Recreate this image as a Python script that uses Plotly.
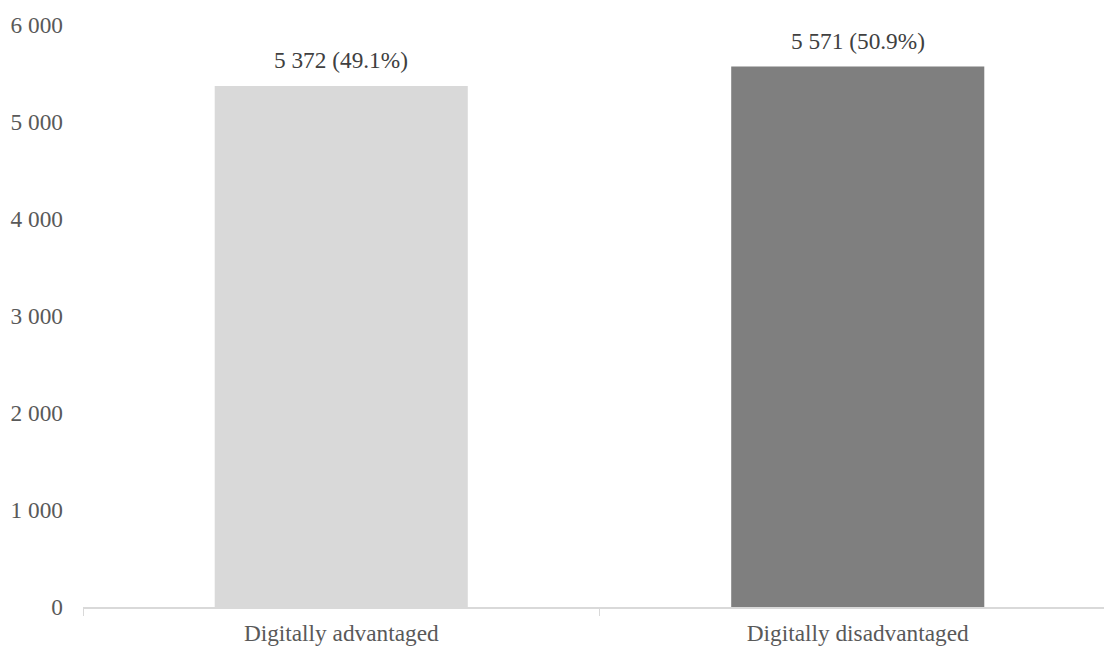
import plotly.graph_objects as go

# Respondent counts by digital status
categories = ["Digitally advantaged", "Digitally disadvantaged"]
counts = [5372, 5571]
shares = [49.1, 50.9]
bar_colors = ["#d9d9d9", "#7f7f7f"]

y_ticks = [0, 1000, 2000, 3000, 4000, 5000, 6000]
y_tick_text = ["0", "1 000", "2 000", "3 000", "4 000", "5 000", "6 000"]


def fmt_thousands(v):
    return f"{v:,}".replace(",", " ")


labels = [f"{fmt_thousands(c)} ({s:.1f}%)" for c, s in zip(counts, shares)]

font_family = "Liberation Serif, Times New Roman, serif"
text_color = "#595959"
font_size = 23.3

fig = go.Figure(
    go.Bar(
        x=categories,
        y=counts,
        marker=dict(color=bar_colors, line=dict(width=0)),
        hoverinfo="skip",
    )
)

for cat, c, lab in zip(categories, counts, labels):
    fig.add_annotation(
        x=cat, y=c, text=lab, showarrow=False,
        yanchor="bottom", yshift=11,
        font=dict(family=font_family, size=font_size, color="#404040"),
    )

# Plot area extends past the right page edge, so the x range is widened
plot_left, plot_right, cat_px = 83, 1104, 516.5
x_right = -0.5 + (plot_right - plot_left) / cat_px

fig.update_layout(
    width=1104,
    height=648,
    margin=dict(l=plot_left, r=0, t=25, b=41),
    paper_bgcolor="white",
    plot_bgcolor="white",
    bargap=0.51,
    showlegend=False,
    font=dict(family=font_family, size=font_size, color=text_color),
    xaxis=dict(
        range=[-0.5, x_right],
        showline=True,
        linecolor="#d9d9d9",
        linewidth=1.5,
        ticks="outside",
        tickson="boundaries",
        ticklen=7,
        tickcolor="#d9d9d9",
        ticklabelstandoff=4,
        showgrid=False,
        zeroline=False,
        fixedrange=True,
    ),
    yaxis=dict(
        range=[0, 6000],
        tickvals=y_ticks,
        ticktext=y_tick_text,
        showgrid=False,
        zeroline=False,
        showline=False,
        ticklabelstandoff=19,
        fixedrange=True,
    ),
)

fig.write_html("out.html")
